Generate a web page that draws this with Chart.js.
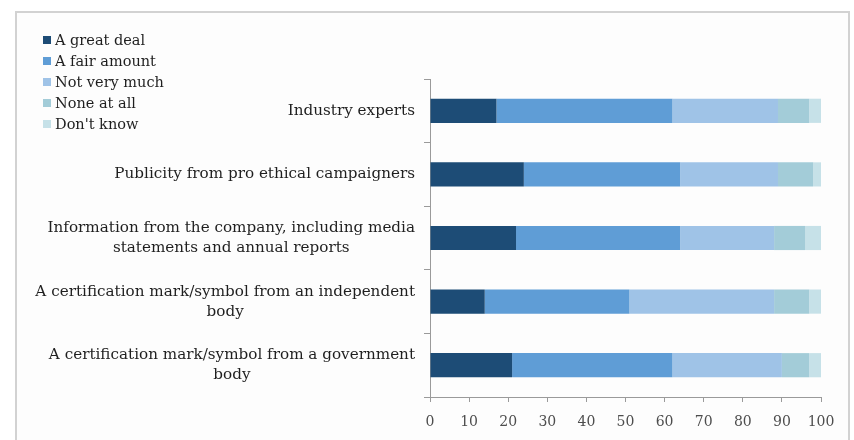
<!DOCTYPE html>
<html lang="en">
<head>
<meta charset="utf-8">
<title>Trust in sources of ethical information</title>
<script src="https://cdn.jsdelivr.net/npm/chart.js@4/dist/chart.umd.min.js"></script>
<style>
    html, body {
        margin: 0;
        padding: 0;
        background: #ffffff;
        width: 854px;
        height: 440px;
        overflow: hidden;
    }
    #frame {
        position: absolute;
        left: 15px;
        top: 11px;
        width: 835px;
        height: 440px;
        box-sizing: border-box;
        border: 2px solid #d2d2d2;
        background: #fdfdfd;
    }
    #chart {
        position: absolute;
        left: 0;
        top: 0;
    }
    #legend {
        position: absolute;
        left: 43px;
        top: 30px;
        margin: 0;
        padding: 0;
        list-style: none;
        font-family: "DejaVu Serif", serif;
        font-size: 14.5px;
        color: #1f1f1f;
    }
    #legend li {
        height: 21px;
        line-height: 21px;
        white-space: nowrap;
    }
    #legend span {
        display: inline-block;
        width: 8px;
        height: 8px;
        margin-right: 4px;
        vertical-align: 1px;
    }
</style>
</head>
<body>
<div id="frame"></div>
<canvas id="chart" width="854" height="440"></canvas>
<ul id="legend"></ul>

<script>
"use strict";

// Källor, uppifrån och ned
const sources = [
    "Industry experts",
    "Publicity from pro ethical campaigners",
    ["Information from the company, including media", "statements and annual reports"],
    ["A certification mark/symbol from an independent", "body"],
    ["A certification mark/symbol from a government", "body"]
];

// Andel svarande (%) per svarsalternativ
const greatDeal   = [17, 24, 22, 14, 21];
const fairAmount  = [45, 40, 42, 37, 41];
const notVeryMuch = [27, 25, 24, 37, 28];
const noneAtAll   = [8, 9, 8, 9, 7];
const dontKnow    = [3, 2, 4, 3, 3];

const answerLabels = ["A great deal", "A fair amount", "Not very much", "None at all", "Don't know"];
const answerColors = ["#1d4c76", "#5f9dd6", "#9fc3e7", "#a3ccd8", "#c6e1e8"];

const xTicks = [0, 10, 20, 30, 40, 50, 60, 70, 80, 90, 100];

const labelFont = "15.2px 'DejaVu Serif', serif";

/**
 * Ritar y-axelns etiketter själv så att radbrutna etiketter
 * centreras under sin längsta rad men hålls högerställda mot axeln.
 */
const centeredLabels = {
    id: "centeredLabels",
    afterDraw(chart) {
        const ctx = chart.ctx;
        const yScale = chart.scales.y;
        const right = chart.chartArea.left - 15;
        const lineHeight = 20;

        ctx.save();
        ctx.font = labelFont;
        ctx.fillStyle = "#1f1f1f";
        ctx.textAlign = "center";
        ctx.textBaseline = "middle";

        sources.forEach((label, i) => {
            const lines = Array.isArray(label) ? label : [label];
            const widest = Math.max(...lines.map(line => ctx.measureText(line).width));
            const cx = right - widest / 2;
            const cy = yScale.getPixelForValue(i);
            const top = cy - (lines.length - 1) * lineHeight / 2;
            lines.forEach((line, j) => ctx.fillText(line, cx, top + j * lineHeight));
        });
        ctx.restore();
    }
};

// Bygger förklaringen som en vanlig HTML-lista
function buildLegend(chart) {
    const list = document.getElementById("legend");
    chart.data.datasets.forEach(ds => {
        const li = document.createElement("li");
        const box = document.createElement("span");
        box.style.background = ds.backgroundColor;
        li.appendChild(box);
        li.appendChild(document.createTextNode(ds.label));
        list.appendChild(li);
    });
}

function createStackedChart() {
    const values = [greatDeal, fairAmount, notVeryMuch, noneAtAll, dontKnow];

    const chart = new Chart(document.getElementById("chart"), {
        type: "bar",
        data: {
            labels: sources,
            datasets: values.map((data, i) => ({
                label: answerLabels[i],
                data: data,
                backgroundColor: answerColors[i],
                borderWidth: 0,
                barPercentage: 0.38,
                categoryPercentage: 1
            }))
        },
        plugins: [centeredLabels],
        options: {
            indexAxis: "y",
            responsive: false,
            animation: false,
            layout: {
                padding: { top: 79, right: 33, left: 0, bottom: 0 }
            },
            plugins: {
                legend: { display: false },
                tooltip: { enabled: false }
            },
            scales: {
                x: {
                    stacked: true,
                    min: 0,
                    max: 100,
                    afterBuildTicks: scale => {
                        scale.ticks = xTicks.map(v => ({ value: v }));
                    },
                    afterFit: scale => {
                        scale.height = 43;
                    },
                    border: { color: "#9a9a9a", width: 1 },
                    grid: {
                        drawOnChartArea: false,
                        drawTicks: true,
                        tickLength: 5,
                        color: "#9a9a9a"
                    },
                    ticks: {
                        padding: 12,
                        color: "#4d4d4d",
                        font: { family: "'DejaVu Serif', serif", size: 14 }
                    }
                },
                y: {
                    stacked: true,
                    afterFit: scale => {
                        scale.width = 430;
                    },
                    border: { color: "#9a9a9a", width: 1 },
                    grid: {
                        drawOnChartArea: false,
                        drawTicks: true,
                        tickLength: 6,
                        offset: true,
                        color: "#9a9a9a"
                    },
                    ticks: { display: false }
                }
            }
        }
    });

    buildLegend(chart);
}

document.addEventListener("DOMContentLoaded", () => {
    createStackedChart();
});
</script>
</body>
</html>
